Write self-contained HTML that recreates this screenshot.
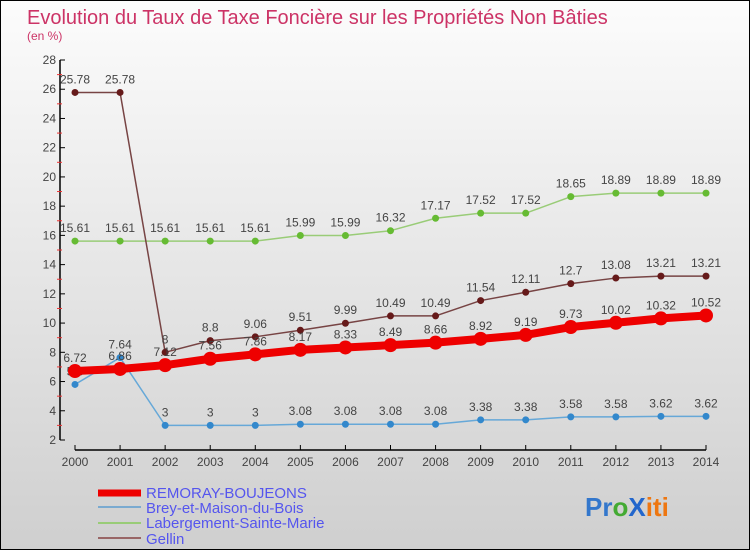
<!DOCTYPE html>
<html><head><meta charset="utf-8"><style>
body{margin:0}
svg text{font-family:"Liberation Sans",sans-serif}
</style></head><body>
<svg id="c" width="750" height="550" xmlns="http://www.w3.org/2000/svg">
<defs><linearGradient id="bg" x1="0" y1="0" x2="0" y2="1"><stop offset="0" stop-color="#fcfcfc"/><stop offset="1" stop-color="#cfcfcf"/></linearGradient></defs>
<rect x="0.5" y="0.5" width="749" height="549" fill="url(#bg)" stroke="#000"/>
<text x="27" y="24" font-size="20" fill="#cc3366">Evolution du Taux de Taxe Foncière sur les Propriétés Non Bâties</text>
<text x="27" y="40" font-size="12" fill="#cc3366">(en %)</text>
<g id="axes"></g>
<g id="series"></g>
<g>
<line x1="98" y1="493" x2="141" y2="493" stroke="#e00" stroke-width="7"/>
<text x="146" y="498" font-size="15" fill="#5555ee">REMORAY-BOUJEONS</text>
<line x1="98" y1="507" x2="141" y2="507" stroke="#7aaad0" stroke-width="2"/>
<text x="146" y="513" font-size="15" fill="#5555ee">Brey-et-Maison-du-Bois</text>
<line x1="98" y1="523" x2="141" y2="523" stroke="#99cc77" stroke-width="2"/>
<text x="146" y="528" font-size="15" fill="#5555ee">Labergement-Sainte-Marie</text>
<line x1="98" y1="538" x2="141" y2="538" stroke="#996666" stroke-width="2"/>
<text x="146" y="544" font-size="15" fill="#5555ee">Gellin</text>
</g>
<text x="585" y="516" font-size="26" font-weight="bold"><tspan fill="#3377cc">Pr</tspan><tspan fill="#44aa33">o</tspan><tspan fill="#2266cc">X</tspan><tspan fill="#ee7711">iti</tspan></text>
</svg>
<script>
const years=[2000,2001,2002,2003,2004,2005,2006,2007,2008,2009,2010,2011,2012,2013,2014];
const yTicks=[2,4,6,8,10,12,14,16,18,20,22,24,26,28];
const remoray=[6.72,6.86,7.12,7.56,7.86,8.17,8.33,8.49,8.66,8.92,9.19,9.73,10.02,10.32,10.52];
const brey=[5.8,7.64,3,3,3,3.08,3.08,3.08,3.08,3.38,3.38,3.58,3.58,3.62,3.62];
const labergement=[15.61,15.61,15.61,15.61,15.61,15.99,15.99,16.32,17.17,17.52,17.52,18.65,18.89,18.89,18.89];
const gellin=[25.78,25.78,8,8.8,9.06,9.51,9.99,10.49,10.49,11.54,12.11,12.7,13.08,13.21,13.21];
const NS="http://www.w3.org/2000/svg";
const xS=i=>75+i*(706-75)/(years.length-1);
const yS=v=>440-(v-2)*(380/26);
function mk(tag,attrs,parent,txt){const e=document.createElementNS(NS,tag);for(const k in attrs)e.setAttribute(k,attrs[k]);if(txt!==undefined)e.textContent=txt;parent.appendChild(e);return e;}
const ax=document.getElementById('axes');
let e=mk('line',{x1:60,y1:60,x2:60,y2:440,stroke:'#000','stroke-width':1.5},ax);


e=mk('line',{x1:75,y1:450,x2:706,y2:450,stroke:'#000','stroke-width':1.5},ax);


yTicks.forEach(t=>{
 mk('line',{x1:60,y1:yS(t),x2:65,y2:yS(t),stroke:'#000'},ax);
 if(t<28){mk('line',{x1:57,y1:yS(t+1),x2:62,y2:yS(t+1),stroke:'#e33'},ax);}
 const l=mk('text',{x:56,y:yS(t)+4,'font-size':12,fill:'#444','text-anchor':'end'},ax,String(t));
 
 
});
years.forEach((y,i)=>{
 mk('line',{x1:xS(i),y1:445,x2:xS(i),y2:450,stroke:'#000'},ax);
 const l=mk('text',{x:xS(i),y:466,'font-size':12,fill:'#444','text-anchor':'middle'},ax,String(y));
 
 
});
const sg=document.getElementById('series');
function draw(vals,name,color,dot,w,r,labelColor){
 const g=mk('g',{},sg);
 
 
 const p=mk('polyline',{points:vals.map((v,i)=>xS(i)+','+yS(v)).join(' '),fill:'none',stroke:color,'stroke-width':w,'stroke-linejoin':'round'},g);
 
 
 vals.forEach((v,i)=>{
  const c=mk('circle',{cx:xS(i),cy:yS(v),r:r,fill:dot},g);
  
  
  const t=mk('text',{x:xS(i),y:yS(v)-9,'font-size':12,fill:'#444','text-anchor':'middle'},g,String(v));
  
  
 });
}
draw(labergement,'labergement','#99cc77','#66bb33',1.5,3.5);
draw(gellin,'gellin','#774444','#661a1a',1.5,3.5);
draw(brey,'brey','#66a8d8','#3388cc',1.5,3.5);
draw(remoray,'remoray','#ee0000','#ee0000',8,7);
</script>
</body></html>
